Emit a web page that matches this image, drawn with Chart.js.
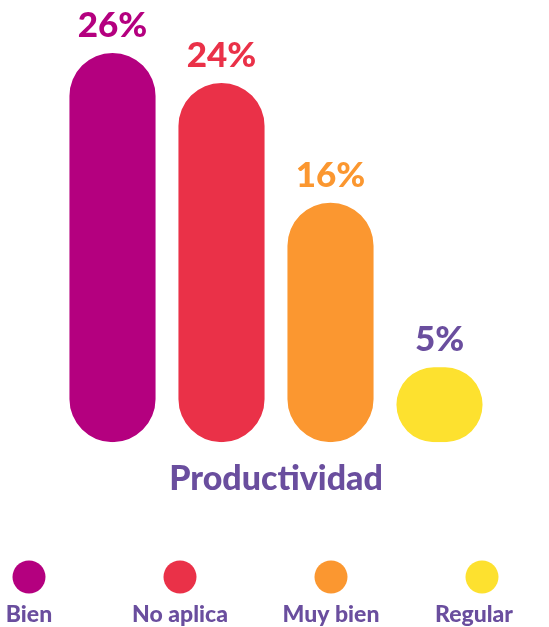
<!DOCTYPE html>
<html>
<head>
<meta charset="utf-8">
<script src="https://cdn.jsdelivr.net/npm/chart.js@4"></script>
<style>
  html, body { margin: 0; padding: 0; background: #fff; }
  #wrap { width: 549px; height: 627px; position: relative; }
</style>
</head>
<body>
<div id="wrap"><canvas id="myChart"></canvas></div>
<script>
// datos
const categories = ['Bien', 'No aplica', 'Muy bien', 'Regular'];
const values = [26, 24, 16, 5];
const valueLabels = values.map(v => v + '%');
const chartTitle = 'Productividad';

const barColors = ['#b4007f', '#ea3148', '#fb9730', '#fde12f'];
const labelColors = ['#b4007f', '#ea3148', '#fb9730', '#6a4e9e']; // el amarillo no se lee, va en morado
const purple = '#6a4e9e';
const fontFam = 'Lato, "Open Sans", sans-serif';

// etiquetas encima de cada barra
const valueLabelPlugin = {
    id: 'valueLabels',
    afterDatasetsDraw(chart) {
        const ctx = chart.ctx;
        const meta = chart.getDatasetMeta(0);
        ctx.save();
        ctx.font = '900 35px ' + fontFam;
        ctx.textAlign = 'center';
        ctx.textBaseline = 'alphabetic';
        meta.data.forEach((bar, i) => {
            ctx.fillStyle = labelColors[i];
            ctx.fillText(valueLabels[i], bar.x, bar.y - 16);
        });
        ctx.restore();
    }
};

// leyenda: circulo arriba, texto abajo
const circleLegendPlugin = {
    id: 'circleLegend',
    afterDraw(chart) {
        const ctx = chart.ctx;
        const labels = chart.data.labels;
        const colors = chart.data.datasets[0].backgroundColor;
        ctx.save();
        ctx.font = '900 23px ' + fontFam;
        ctx.textAlign = 'center';
        ctx.textBaseline = 'alphabetic';
        labels.forEach((lab, i) => {
            const x = 29 + i * 151;
            ctx.beginPath();
            ctx.arc(x, 577, 16.5, 0, Math.PI * 2);
            ctx.fillStyle = colors[i];
            ctx.fill();
            ctx.fillStyle = purple;
            ctx.fillText(lab, Math.min(x, 474), 622);
        });
        ctx.restore();
    }
};

const ctx = document.getElementById('myChart');

new Chart(ctx, {
    type: 'bar',
    data: {
        labels: categories,
        datasets: [{
            data: values,
            backgroundColor: barColors,
            borderRadius: 100,
            borderSkipped: false,
            categoryPercentage: 1,
            barPercentage: 0.79
        }]
    },
    options: {
        responsive: true,
        maintainAspectRatio: false,
        animation: false,
        layout: {
            padding: { top: 53, left: 58, right: 55, bottom: 128 }
        },
        scales: {
            x: { display: false },
            y: { display: false, min: 0, max: 26 }
        },
        plugins: {
            legend: { display: false },
            tooltip: { enabled: false },
            title: {
                display: true,
                text: chartTitle,
                position: 'bottom',
                color: purple,
                font: { family: fontFam, size: 34, weight: '900' },
                padding: { top: 16, bottom: 0 }
            }
        }
    },
    plugins: [valueLabelPlugin, circleLegendPlugin]
});
</script>
</body>
</html>
